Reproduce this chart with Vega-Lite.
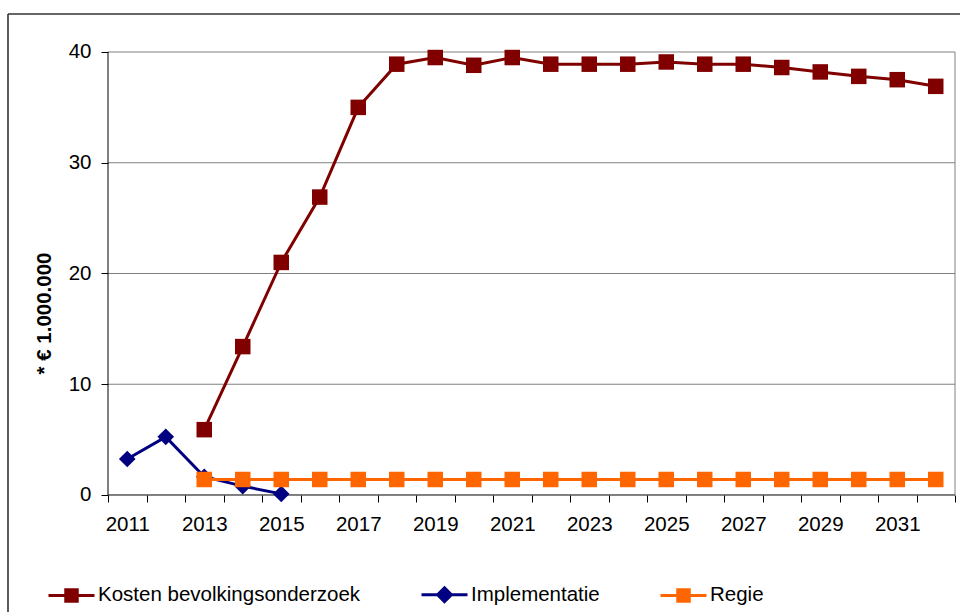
{
  "$schema": "https://vega.github.io/schema/vega-lite/v6.json",
  "width": 952,
  "height": 598,
  "autosize": {"type": "none"},
  "padding": {"left": 8, "top": 14, "right": 0, "bottom": 0},
  "config": {
    "font": "Liberation Sans",
    "view": {"stroke": null}
  },
  "datasets": {
    "series": [
      {"year": 2013, "series": "Kosten bevolkingsonderzoek", "value": 5.9},
      {"year": 2014, "series": "Kosten bevolkingsonderzoek", "value": 13.4},
      {"year": 2015, "series": "Kosten bevolkingsonderzoek", "value": 21.0},
      {"year": 2016, "series": "Kosten bevolkingsonderzoek", "value": 26.9},
      {"year": 2017, "series": "Kosten bevolkingsonderzoek", "value": 35.0},
      {"year": 2018, "series": "Kosten bevolkingsonderzoek", "value": 38.9},
      {"year": 2019, "series": "Kosten bevolkingsonderzoek", "value": 39.5},
      {"year": 2020, "series": "Kosten bevolkingsonderzoek", "value": 38.8},
      {"year": 2021, "series": "Kosten bevolkingsonderzoek", "value": 39.5},
      {"year": 2022, "series": "Kosten bevolkingsonderzoek", "value": 38.9},
      {"year": 2023, "series": "Kosten bevolkingsonderzoek", "value": 38.9},
      {"year": 2024, "series": "Kosten bevolkingsonderzoek", "value": 38.9},
      {"year": 2025, "series": "Kosten bevolkingsonderzoek", "value": 39.1},
      {"year": 2026, "series": "Kosten bevolkingsonderzoek", "value": 38.9},
      {"year": 2027, "series": "Kosten bevolkingsonderzoek", "value": 38.9},
      {"year": 2028, "series": "Kosten bevolkingsonderzoek", "value": 38.6},
      {"year": 2029, "series": "Kosten bevolkingsonderzoek", "value": 38.2},
      {"year": 2030, "series": "Kosten bevolkingsonderzoek", "value": 37.8},
      {"year": 2031, "series": "Kosten bevolkingsonderzoek", "value": 37.5},
      {"year": 2032, "series": "Kosten bevolkingsonderzoek", "value": 36.9},
      {"year": 2011, "series": "Implementatie", "value": 3.25},
      {"year": 2012, "series": "Implementatie", "value": 5.25},
      {"year": 2013, "series": "Implementatie", "value": 1.65},
      {"year": 2014, "series": "Implementatie", "value": 0.8},
      {"year": 2015, "series": "Implementatie", "value": 0.1},
      {"year": 2013, "series": "Regie", "value": 1.4},
      {"year": 2014, "series": "Regie", "value": 1.4},
      {"year": 2015, "series": "Regie", "value": 1.4},
      {"year": 2016, "series": "Regie", "value": 1.4},
      {"year": 2017, "series": "Regie", "value": 1.4},
      {"year": 2018, "series": "Regie", "value": 1.4},
      {"year": 2019, "series": "Regie", "value": 1.4},
      {"year": 2020, "series": "Regie", "value": 1.4},
      {"year": 2021, "series": "Regie", "value": 1.4},
      {"year": 2022, "series": "Regie", "value": 1.4},
      {"year": 2023, "series": "Regie", "value": 1.4},
      {"year": 2024, "series": "Regie", "value": 1.4},
      {"year": 2025, "series": "Regie", "value": 1.4},
      {"year": 2026, "series": "Regie", "value": 1.4},
      {"year": 2027, "series": "Regie", "value": 1.4},
      {"year": 2028, "series": "Regie", "value": 1.4},
      {"year": 2029, "series": "Regie", "value": 1.4},
      {"year": 2030, "series": "Regie", "value": 1.4},
      {"year": 2031, "series": "Regie", "value": 1.4},
      {"year": 2032, "series": "Regie", "value": 1.4}
    ],
    "grid": [{"g": 10}, {"g": 20}, {"g": 30}, {"g": 40}],
    "one": [{"k": 1}]
  },
  "layer": [
    {
      "data": {"name": "one"},
      "mark": {"type": "rule", "color": "#333333", "strokeWidth": 1.6},
      "encoding": {
        "y": {"datum": 43.43115, "type": "quantitative"},
        "x": {"datum": 2007.902597, "type": "quantitative"},
        "x2": {"datum": 2032.62987}
      }
    },
    {
      "data": {"name": "one"},
      "mark": {"type": "rule", "color": "#333333", "strokeWidth": 1.6},
      "encoding": {
        "x": {"datum": 2007.902597, "type": "quantitative"},
        "y": {"datum": 43.43115, "type": "quantitative"},
        "y2": {"datum": -10.56434}
      }
    },
    {
      "data": {"name": "grid"},
      "mark": {"type": "rule", "color": "#808080", "strokeWidth": 1},
      "encoding": {
        "y": {"field": "g", "type": "quantitative"},
        "x": {"datum": 2010.5, "type": "quantitative"},
        "x2": {"datum": 2032.5}
      }
    },
    {
      "data": {"name": "one"},
      "mark": {"type": "rule", "color": "#808080", "strokeWidth": 1},
      "encoding": {
        "x": {"datum": 2032.5, "type": "quantitative"},
        "y": {"datum": 0, "type": "quantitative"},
        "y2": {"datum": 40}
      }
    },
    {
      "data": {"name": "one"},
      "mark": {"type": "rule", "color": "#000000", "strokeWidth": 1},
      "encoding": {
        "x": {"datum": 2010.5, "type": "quantitative"},
        "y": {"datum": 0, "type": "quantitative"},
        "y2": {"datum": 40}
      }
    },
    {
      "data": {"name": "one"},
      "mark": {"type": "rule", "color": "#000000", "strokeWidth": 1},
      "encoding": {
        "y": {"datum": 0, "type": "quantitative"},
        "x": {"datum": 2010.5, "type": "quantitative"},
        "x2": {"datum": 2032.5}
      }
    },
    {
      "data": {"name": "series"},
      "mark": {"type": "line", "strokeWidth": 3},
      "encoding": {
        "x": {
          "field": "year",
          "type": "quantitative",
          "scale": {"domain": [2007.902597, 2032.62987], "nice": false, "zero": false},
          "axis": {
            "orient": "bottom",
            "offset": -117,
            "values": [2010.5, 2011.5, 2012.5, 2013.5, 2014.5, 2015.5, 2016.5, 2017.5, 2018.5, 2019.5, 2020.5, 2021.5, 2022.5, 2023.5, 2024.5, 2025.5, 2026.5, 2027.5, 2028.5, 2029.5, 2030.5, 2031.5, 2032.5],
            "labelExpr": "datum.value < 2032 && (datum.value + 0.5) % 2 == 1 ? '' + (datum.value + 0.5) : ''",
            "labelOffset": 19.25,
            "labelPadding": 12,
            "labelFontSize": 20.5,
            "labelColor": "#000000",
            "labelFlush": false,
            "labelOverlap": false,
            "labelBound": false,
            "tickSize": 7,
            "tickColor": "#000000",
            "domain": false,
            "grid": false,
            "title": null
          }
        },
        "y": {
          "field": "value",
          "type": "quantitative",
          "scale": {"domain": [-10.56434, 43.43115], "nice": false, "zero": false},
          "axis": {
            "orient": "left",
            "offset": -100,
            "values": [0, 10, 20, 30, 40],
            "tickSize": 7,
            "tickColor": "#000000",
            "labelPadding": 10,
            "labelFontSize": 20.5,
            "labelColor": "#000000",
            "domain": false,
            "grid": false,
            "title": "* € 1.000.000",
            "titleFontSize": 20.5,
            "titleFontWeight": "bold",
            "titleColor": "#000000",
            "titlePadding": 14
          }
        },
        "color": {
          "field": "series",
          "type": "nominal",
          "scale": {
            "domain": ["Kosten bevolkingsonderzoek", "Implementatie", "Regie"],
            "range": ["#800000", "#000080", "#FF6600"]
          },
          "legend": {
            "orient": "none",
            "legendX": 39,
            "legendY": 556,
            "direction": "horizontal",
            "columns": 3,
            "columnPadding": 54,
            "title": null,
            "padding": 0,
            "symbolSize": 2116,
            "symbolStrokeWidth": 3,
            "labelFont": "Liberation Sans",
            "labelFontSize": 20.5,
            "labelColor": "#000000",
            "labelOffset": 2,
            "labelLimit": 400,
            "encode": {
              "symbols": {
                "update": {
                  "shape": {"signal": "datum.value === 'Implementatie' ? 'M-1,0L1,0M0,-0.3L0.3,0L0,0.3L-0.3,0Z' : 'M-1,0L1,0M-0.25,-0.25L0.25,-0.25L0.25,0.25L-0.25,0.25Z'"},
                  "stroke": {"scale": "color", "field": "value"},
                  "fill": {"scale": "color", "field": "value"},
                  "strokeWidth": {"value": 3},
                  "opacity": {"value": 1}
                }
              }
            }
          }
        },
        "detail": {"field": "series"}
      }
    },
    {
      "data": {"name": "series"},
      "transform": [{"filter": "datum.series === 'Kosten bevolkingsonderzoek'"}],
      "mark": {"type": "point", "filled": true, "opacity": 1, "size": 240, "shape": "square", "color": "#800000"},
      "encoding": {
        "x": {"field": "year", "type": "quantitative"},
        "y": {"field": "value", "type": "quantitative"}
      }
    },
    {
      "data": {"name": "series"},
      "transform": [{"filter": "datum.series === 'Implementatie'"}],
      "mark": {"type": "point", "filled": true, "opacity": 1, "size": 250, "shape": "M0,-1.05L1.05,0L0,1.05L-1.05,0Z", "color": "#000080"},
      "encoding": {
        "x": {"field": "year", "type": "quantitative"},
        "y": {"field": "value", "type": "quantitative"}
      }
    },
    {
      "data": {"name": "series"},
      "transform": [{"filter": "datum.series === 'Regie'"}],
      "mark": {"type": "point", "filled": true, "opacity": 1, "size": 240, "shape": "square", "color": "#FF6600"},
      "encoding": {
        "x": {"field": "year", "type": "quantitative"},
        "y": {"field": "value", "type": "quantitative"}
      }
    }
  ]
}
